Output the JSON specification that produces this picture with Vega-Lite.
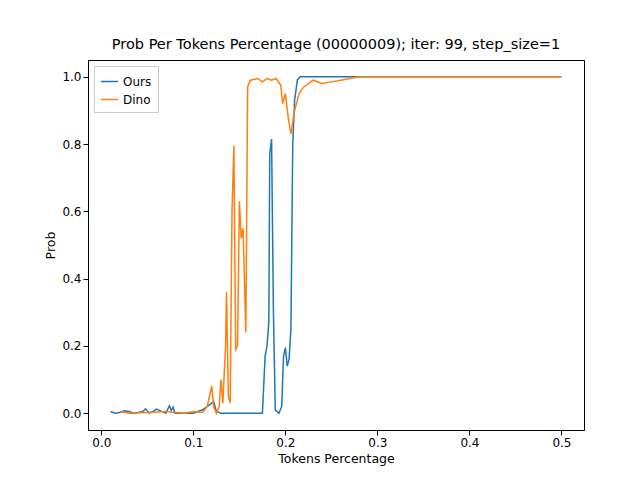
{
"$schema":"https://vega.github.io/schema/vega-lite/v6.json",
"width":496,"height":370,
"padding":{"left":44,"top":36,"right":60,"bottom":10},
"title":{"text":"Prob Per Tokens Percentage (00000009); iter: 99, step_size=1","fontSize":14.5,"fontWeight":"normal","font":"DejaVu Sans","color":"black","offset":8},
"config":{"view":{"stroke":"black","strokeWidth":1},"axis":{"grid":false,"domainColor":"black","tickColor":"black","labelFont":"DejaVu Sans","titleFont":"DejaVu Sans","labelFontSize":12,"titleFontSize":12.5,"titleFontWeight":"normal","labelColor":"black","titleColor":"black"}},
"datasets":{"ours":[
[0.01,0.005],[0.015,0.0],[0.02,0.002],[0.025,0.007],[0.03,0.005],[0.035,0.0],[0.04,0.002],[0.045,0.005],[0.048,0.013],[0.052,0.0],[0.056,0.005],[0.06,0.012],[0.065,0.006],[0.07,0.0],[0.074,0.022],[0.076,0.008],[0.078,0.018],[0.08,0.0],[0.1,0.0],[0.11,0.01],[0.12,0.03],[0.122,0.035],[0.125,0.005],[0.13,0.0],[0.175,0.0],[0.178,0.17],[0.18,0.2],[0.182,0.27],[0.183,0.77],[0.185,0.815],[0.187,0.3],[0.189,0.01],[0.193,0.0],[0.196,0.02],[0.198,0.17],[0.2,0.195],[0.202,0.14],[0.204,0.16],[0.206,0.25],[0.208,0.8],[0.21,0.93],[0.213,0.99],[0.216,1.0],[0.5,1.0]],
"dino":[
[0.02,0.005],[0.03,0.0],[0.05,0.002],[0.07,0.005],[0.09,0.0],[0.1,0.005],[0.11,0.002],[0.115,0.02],[0.12,0.08],[0.122,0.02],[0.125,0.0],[0.128,0.02],[0.13,0.1],[0.132,0.03],[0.135,0.2],[0.136,0.36],[0.138,0.05],[0.14,0.03],[0.142,0.6],[0.144,0.795],[0.146,0.19],[0.148,0.2],[0.15,0.63],[0.152,0.52],[0.154,0.55],[0.157,0.24],[0.159,0.97],[0.162,0.99],[0.17,0.995],[0.175,0.985],[0.18,0.995],[0.185,0.99],[0.19,0.995],[0.195,0.975],[0.197,0.92],[0.2,0.95],[0.203,0.88],[0.206,0.83],[0.21,0.9],[0.215,0.95],[0.22,0.97],[0.23,0.99],[0.24,0.98],[0.25,0.985],[0.26,0.99],[0.27,0.995],[0.28,1.0],[0.5,1.0]]},
"layer":[
{"data":{"name":"ours"},"transform":[{"calculate":"datum[0]","as":"x"},{"calculate":"datum[1]","as":"y"},{"calculate":"'Ours'","as":"s"}],
"mark":{"type":"line","strokeWidth":1.5},
"encoding":{"x":{"field":"x","type":"quantitative","scale":{"domain":[-0.0145,0.5245],"nice":false},"axis":{"values":[0,0.1,0.2,0.3,0.4,0.5],"format":".1f","title":"Tokens Percentage"}},
"y":{"field":"y","type":"quantitative","scale":{"domain":[-0.05,1.05],"nice":false},"axis":{"values":[0,0.2,0.4,0.6,0.8,1.0],"format":".1f","title":"Prob"}},
"color":{"field":"s","type":"nominal","scale":{"domain":["Ours","Dino"],"range":["#1f77b4","#ff7f0e"]},"legend":{"title":null,"orient":"top-left","offset":6,"strokeColor":"#ccc","fillColor":"white","padding":6,"labelFontSize":12,"labelFont":"DejaVu Sans","labelColor":"black","symbolType":"stroke","symbolStrokeWidth":1.5,"symbolSize":300}}}},
{"data":{"name":"dino"},"transform":[{"calculate":"datum[0]","as":"x"},{"calculate":"datum[1]","as":"y"},{"calculate":"'Dino'","as":"s"}],
"mark":{"type":"line","strokeWidth":1.5},
"encoding":{"x":{"field":"x","type":"quantitative"},"y":{"field":"y","type":"quantitative"},"color":{"field":"s","type":"nominal"}}}
]}
